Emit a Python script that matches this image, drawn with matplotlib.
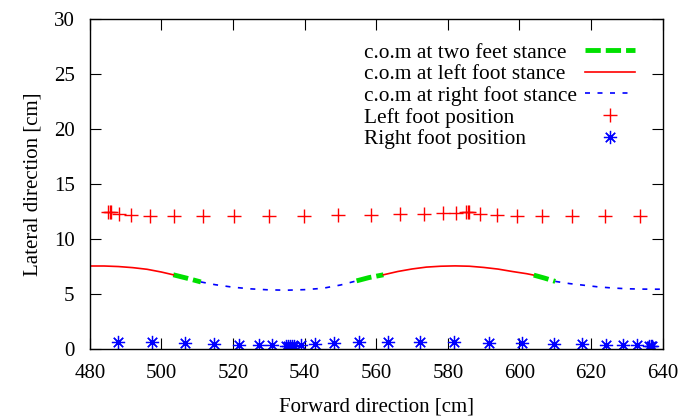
import matplotlib
matplotlib.use("Agg")
import matplotlib.pyplot as plt

# foot positions [cm]
left_x = [485.0, 485.5, 486.0, 488.2, 491.6, 496.8, 503.5, 511.5, 520.3, 530.0, 539.8, 549.4, 558.5,
          566.6, 573.3, 578.5, 582.2, 585.0, 585.5, 586.0, 588.9, 593.6, 599.4, 606.3, 614.7, 623.9, 633.6]
left_y = [12.5, 12.5, 12.5, 12.3, 12.2, 12.1, 12.1, 12.1, 12.1, 12.1, 12.1, 12.2, 12.2,
          12.3, 12.3, 12.4, 12.4, 12.5, 12.5, 12.5, 12.3, 12.2, 12.1, 12.1, 12.1, 12.1, 12.1]

right_x = [487.9, 497.4, 506.5, 514.7, 521.7, 527.3, 531.0, 534.9, 535.4, 535.9, 536.5, 537.1, 539.1,
           542.8, 548.2, 555.1, 563.3, 572.2, 581.8, 591.5, 600.8, 609.7, 617.6, 624.2, 629.0, 632.8,
           636.1, 636.6, 637.1]
right_y = [0.62, 0.62, 0.58, 0.47, 0.38, 0.36, 0.33, 0.28, 0.28, 0.28, 0.28, 0.28, 0.38,
           0.5, 0.58, 0.66, 0.66, 0.64, 0.62, 0.58, 0.52, 0.5, 0.45, 0.38, 0.35, 0.33,
           0.3, 0.3, 0.3]

# centre of mass trajectory, split by stance phase
red1_x = [480, 484, 488, 492, 496, 500, 503.3]
red1_y = [7.55, 7.55, 7.5, 7.4, 7.25, 7.0, 6.75]
green1_x = [503.3, 507, 511]
green1_y = [6.75, 6.45, 6.1]
blue1_x = [511, 515, 520, 525, 530, 535, 540, 545, 550, 554.5]
blue1_y = [6.1, 5.85, 5.62, 5.47, 5.38, 5.35, 5.4, 5.52, 5.82, 6.2]
green2_x = [554.5, 558, 562]
green2_y = [6.2, 6.5, 6.75]
red2_x = [562, 566, 570, 574, 578, 582, 586, 590, 594, 598, 602, 604]
red2_y = [6.75, 7.05, 7.28, 7.45, 7.53, 7.56, 7.53, 7.42, 7.27, 7.05, 6.85, 6.72]
green3_x = [604, 607, 610]
green3_y = [6.72, 6.45, 6.15]
blue2_x = [610, 614, 618, 622, 626, 630, 634, 638, 640]
blue2_y = [6.15, 5.95, 5.8, 5.65, 5.55, 5.48, 5.45, 5.44, 5.44]

xticks = [480, 500, 520, 540, 560, 580, 600, 620, 640]
yticks = [0, 5, 10, 15, 20, 25, 30]


def main():
    plt.rcParams['font.family'] = ['Liberation Serif', 'DejaVu Serif']
    plt.rcParams['lines.scale_dashes'] = False

    fig = plt.figure(figsize=(6.86, 4.16), dpi=100)
    ax = fig.add_axes([0.131, 0.161, 0.835, 0.793])

    green_dash = (0, (11, 3.6))
    blue_dash = (0, (3.6, 5.4))

    ax.plot(green1_x, green1_y, color="#00e000", lw=3.5, linestyle=green_dash, label="c.o.m at two feet stance")
    ax.plot(red1_x, red1_y, color="#ff0000", lw=1.2, label="c.o.m at left foot stance")
    ax.plot(blue1_x, blue1_y, color="#0000ff", lw=1.2, linestyle=blue_dash, label="c.o.m at right foot stance")
    ax.plot(green2_x, green2_y, color="#00e000", lw=3.5, linestyle=green_dash)
    ax.plot(red2_x, red2_y, color="#ff0000", lw=1.2)
    ax.plot(green3_x, green3_y, color="#00e000", lw=3.5, linestyle=green_dash)
    ax.plot(blue2_x, blue2_y, color="#0000ff", lw=1.2, linestyle=blue_dash)

    ax.plot(left_x, left_y, linestyle="none", marker="+", markersize=10, mew=1.0,
            color="#ff0000", label="Left foot position")
    ax.plot(right_x, right_y, linestyle="none", marker=(8, 2, 0), markersize=9.5, mew=0.9,
            color="#0000ff", label="Right foot position")

    ax.set_xlim(480, 640)
    ax.set_ylim(0, 30)
    ax.set_xticks(xticks)
    ax.set_yticks(yticks)
    ax.tick_params(direction="in", length=8, width=0.8, labelsize=15, pad=11,
                   top=True, right=True)
    for s in ax.spines.values():
        s.set_linewidth(1.0)

    ax.set_xlabel("Forward direction [cm]", fontsize=15, labelpad=10)
    ax.set_ylabel("Lateral direction [cm]", fontsize=15, labelpad=8)

    leg = ax.legend(loc="upper right", bbox_to_anchor=(0.967, 0.955), frameon=False,
                    markerfirst=False, fontsize=15.4, handlelength=2.35, handletextpad=0.4,
                    labelspacing=0.08, borderaxespad=0)
    # gnuplot style: labels left aligned, samples in one column on the right
    col = leg._legend_handle_box.get_children()[0]
    for row in col.get_children():
        row.mode = "expand"
        row.width = 271

    fig.savefig("out.png", dpi=100)


if __name__ == "__main__":
    main()
